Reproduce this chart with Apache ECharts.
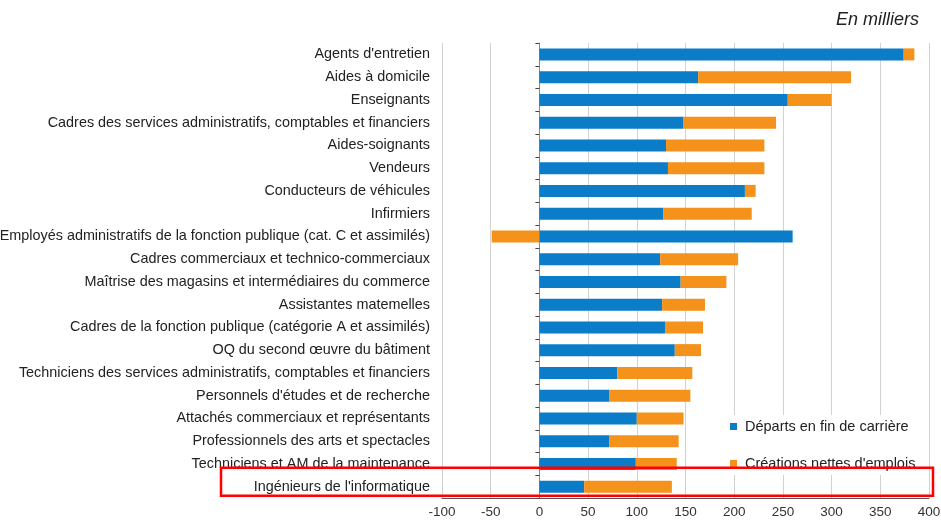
<!DOCTYPE html>
<html>
<head>
<meta charset="utf-8">
<script src="https://cdn.jsdelivr.net/npm/echarts@6/dist/echarts.min.js"></script>
<style>
  html, body { margin: 0; padding: 0; background: #fff; }
  #main { width: 941px; height: 521px; }
</style>
</head>
<body>
<div id="main"></div>
<script>
// metiers, du haut vers le bas
var metiers = [
  "Agents d'entretien",
  "Aides à domicile",
  "Enseignants",
  "Cadres des services administratifs, comptables et financiers",
  "Aides-soignants",
  "Vendeurs",
  "Conducteurs de véhicules",
  "Infirmiers",
  "Employés administratifs de la fonction publique (cat. C et assimilés)",
  "Cadres commerciaux et technico-commerciaux",
  "Maîtrise des magasins et intermédiaires du commerce",
  "Assistantes matemelles",
  "Cadres de la fonction publique (catégorie A et assimilés)",
  "OQ du second œuvre du bâtiment",
  "Techniciens des services administratifs, comptables et financiers",
  "Personnels d'études et de recherche",
  "Attachés commerciaux et représentants",
  "Professionnels des arts et spectacles",
  "Techniciens et AM de la maintenance",
  "Ingénieurs de l'informatique"
];
// en milliers
var departs = [374, 163, 255, 148, 130, 132, 211, 127, 260, 124, 145, 126, 129, 139, 80, 72, 100, 72, 99, 46];
var creations = [11, 157, 45, 95, 101, 99, 11, 91, -49, 80, 47, 44, 39, 27, 77, 83, 48, 71, 42, 90];
var xTicks = { min: -100, max: 400, interval: 50 };

var FONT = 'Liberation Sans, Arial, sans-serif';
var chart = echarts.init(document.getElementById('main'));

var titre = {
  type: 'text',
  right: 22,
  top: 11,
  style: { text: 'En milliers', font: 'italic 18px ' + FONT, fill: '#222' }
};

var option = {
  animation: false,
  textStyle: { fontFamily: FONT },
  grid: { left: 442, right: 12, top: 43, bottom: 23, containLabel: false, outerBoundsMode: 'none' },
  legend: {
    orient: 'vertical',
    left: 726,
    top: 415,
    itemWidth: 7,
    itemHeight: 7,
    itemGap: 22,
    icon: 'rect',
    backgroundColor: '#fff',
    padding: [4, 6, 4, 4],
    textStyle: { fontSize: 14.5, color: '#222', fontFamily: FONT, padding: [0, 0, 0, 3] },
    data: ['Départs en fin de carrière', "Créations nettes d'emplois"]
  },
  graphic: [titre],
  xAxis: {
    type: 'value',
    min: xTicks.min,
    max: xTicks.max,
    interval: xTicks.interval,
    axisLine: { show: true, onZero: false, lineStyle: { color: '#555' } },
    axisTick: { show: false },
    axisLabel: { fontSize: 13.5, color: '#333', margin: 7 },
    splitLine: { show: true, lineStyle: { color: '#d2d2d2' } }
  },
  yAxis: [{
    type: 'category',
    data: metiers,
    inverse: true,
    axisLine: { show: false, onZero: false },
    axisTick: { show: false },
    axisLabel: { fontSize: 14.4, color: '#222', margin: 12 }
  }, {
    type: 'category',
    data: metiers,
    inverse: true,
    position: 'left',
    axisLine: { show: true, onZero: true, lineStyle: { color: '#888' } },
    axisTick: { show: true, length: 4, lineStyle: { color: '#444' } },
    axisLabel: { show: false },
    splitLine: { show: false }
  }],
  series: [{
    name: 'Départs en fin de carrière',
    type: 'bar',
    stack: 'total',
    yAxisIndex: 0,
    barWidth: 12,
    itemStyle: { color: '#0b7dc8' },
    data: departs
  }, {
    name: "Créations nettes d'emplois",
    type: 'bar',
    stack: 'total',
    yAxisIndex: 0,
    barWidth: 12,
    itemStyle: { color: '#f4921c' },
    data: creations
  }]
};
chart.setOption(option);

// cadre rouge autour de la derniere ligne
var last = metiers[metiers.length - 1];
var yc = chart.convertToPixel({ yAxisIndex: 0 }, last);
chart.setOption({
  graphic: [titre, {
    type: 'rect',
    z: 100,
    shape: { x: 221, y: yc - 19, width: 712, height: 28 },
    style: { fill: 'none', stroke: '#f00', lineWidth: 2.5 }
  }]
});
</script>
</body>
</html>
